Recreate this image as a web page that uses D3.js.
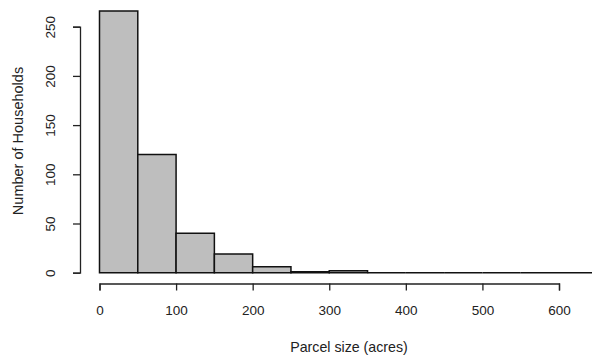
<!DOCTYPE html>
<html>
<head>
<meta charset="utf-8">
<script src="https://cdn.jsdelivr.net/npm/d3@7"></script>
<style>
  html, body { margin: 0; padding: 0; background: #fff; }
  svg { display: block; font-family: "Liberation Sans", Arial, sans-serif; }
</style>
</head>
<body>
<svg id="chart" width="592" height="356"></svg>
<script>
// Histogram bins (acres) and household counts
const binStarts = [0, 50, 100, 150, 200, 250, 300, 350, 400, 450, 500, 550, 600, 650];
const binWidth = 50;
const counts = [266, 120, 40, 19, 6, 1, 2, 0, 0, 0, 0, 0, 0, 0];
const xTicks = [0, 100, 200, 300, 400, 500, 600];
const yTicks = [0, 50, 100, 150, 200, 250];

const svg = d3.select("#chart");

const x = d3.scaleLinear().domain([0, 600]).range([99.5, 559]);
const y = d3.scaleLinear().domain([0, 250]).range([272.7, 26.7]);

// bars as closed paths so empty bins still show as a line on the baseline
svg.append("g")
  .selectAll("path")
  .data(binStarts.map((s, i) => ({ s, c: counts[i] })))
  .join("path")
  .attr("d", d => {
    const x0 = x(d.s), x1 = x(d.s + binWidth), y0 = y(0), y1 = y(d.c);
    return `M${x0},${y0}V${y1}H${x1}V${y0}Z`;
  })
  .attr("fill", "#bebebe")
  .attr("stroke", "#111")
  .attr("stroke-width", 1.5);

// x axis
const xAxis = svg.append("g").attr("transform", "translate(0,283.5)")
  .call(d3.axisBottom(x).tickValues(xTicks).tickSize(7).tickPadding(15).tickFormat(d3.format("d")));
xAxis.select(".domain").attr("stroke", "#222").attr("stroke-width", 1.3);
xAxis.selectAll(".tick line").attr("stroke", "#222").attr("stroke-width", 1.3);
xAxis.selectAll(".tick text").attr("font-size", 13.5).attr("fill", "#222")
  .attr("font-family", "Liberation Sans, Arial, sans-serif");

// y axis
const yAxis = svg.append("g").attr("transform", "translate(80,0)")
  .call(d3.axisLeft(y).tickValues(yTicks).tickSize(7).tickPadding(8).tickFormat(d3.format("d")));
yAxis.select(".domain").attr("stroke", "#222").attr("stroke-width", 1.3);
yAxis.selectAll(".tick line").attr("stroke", "#222").attr("stroke-width", 1.3);
yAxis.selectAll(".tick text")
  .attr("font-size", 13.5).attr("fill", "#222")
  .attr("font-family", "Liberation Sans, Arial, sans-serif")
  .attr("text-anchor", "middle")
  .attr("x", null).attr("dy", null)
  .attr("transform", "translate(-30,0) rotate(-90)")
  .attr("dominant-baseline", "central");

// axis titles
svg.append("text")
  .attr("x", 349).attr("y", 352)
  .attr("text-anchor", "middle")
  .attr("font-size", 14.2).attr("fill", "#222")
  .text("Parcel size (acres)");

svg.append("text")
  .attr("transform", "translate(23,141) rotate(-90)")
  .attr("text-anchor", "middle")
  .attr("font-size", 14.5).attr("fill", "#222")
  .text("Number of Households");
</script>
</body>
</html>
